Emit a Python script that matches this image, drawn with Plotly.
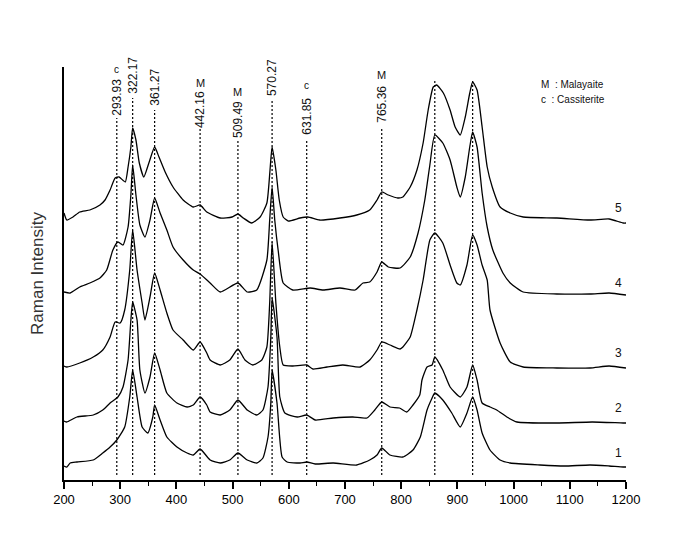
import plotly.graph_objects as go

# ---------------- data ----------------
# Raman shift (cm-1) and stacked intensity (arb. units) for each spectrum
wn1 = [200, 205, 211, 223, 252, 269, 282, 294, 308, 317, 322.17, 330, 339, 349, 358, 361.27, 371, 383, 401, 419, 430, 442.16,
       460, 478, 495, 509.49, 526, 543, 554, 563, 568, 570.27, 579, 588, 597, 620, 631.85, 647, 679, 721, 744, 757, 765.36,
       780, 803, 821, 834, 846, 855, 859.79, 874, 890, 905, 917, 927.11, 935, 944, 958, 976, 994, 1047, 1090, 1136, 1170, 1195, 1200]
int1 = [14, 13, 17, 18, 20, 27, 33, 40, 53, 83, 110, 83, 53, 47, 63, 75, 60, 43, 33, 27, 25, 31,
        20, 17, 20, 27, 20, 17, 22, 43, 77, 110, 77, 23, 18, 17, 18, 16, 17, 15, 20, 25, 32,
        25, 23, 30, 43, 70, 82, 87, 80, 67, 53, 67, 83, 70, 47, 30, 20, 17, 15, 14, 15, 14, 13, 13]

wn2 = [200, 205, 223, 252, 269, 282, 296, 305, 314, 319, 322.17, 330, 335, 344, 353, 361.27, 371, 383, 401, 419, 430, 442.16,
       454, 460, 478, 495, 509.49, 526, 543, 554, 563, 568, 570.27, 579, 584, 593, 615, 631.85, 647, 679, 714, 739, 753, 765.36,
       780, 797, 810, 821, 833, 837, 846, 855, 859.79, 874, 887, 905, 917, 927.11, 935, 944, 958, 970, 988, 1006, 1077, 1140, 1195, 1200]
int2 = [59, 58, 63, 65, 70, 77, 83, 93, 120, 160, 178, 160, 110, 87, 103, 127, 110, 87, 77, 73, 75, 83,
        75, 68, 65, 70, 80, 70, 65, 70, 93, 143, 182, 143, 83, 67, 63, 65, 60, 62, 63, 62, 70, 78,
        73, 72, 68, 75, 85, 100, 113, 115, 123, 110, 93, 83, 93, 115, 100, 77, 73, 70, 63, 58, 57, 58, 57, 57]

wn3 = [200, 205, 228, 252, 269, 282, 291, 300, 308, 317, 322.17, 330, 339, 344, 353, 361.27, 371, 383, 394, 412, 430, 442.16,
       454, 460, 478, 495, 509.49, 522, 536, 552, 561, 566, 570.27, 577, 584, 590, 607, 631.85, 643, 668, 696, 727, 744, 757, 765.36,
       780, 798, 803, 816, 828, 839, 851, 859.79, 874, 887, 899, 905, 917, 927.11, 935, 944, 953, 958, 976, 994, 1017, 1077, 1136, 1170, 1200]
int3 = [114, 113, 117, 123, 130, 143, 158, 157, 170, 210, 250, 210, 177, 160, 183, 207, 190, 167, 150, 140, 130, 138,
        127, 120, 115, 120, 131, 120, 115, 120, 133, 177, 238, 177, 133, 115, 114, 115, 111, 113, 115, 113, 120, 130, 138,
        135, 131, 133, 143, 170, 200, 240, 247, 237, 215, 197, 195, 215, 245, 235, 215, 200, 170, 137, 118, 113, 112, 112, 114, 112]

wn4 = [200, 211, 228, 246, 264, 276, 287, 296, 305, 314, 319, 322.17, 328, 335, 344, 353, 361.27, 371, 383, 394, 412, 430, 442.16,
       460, 478, 509.49, 526, 543, 561, 566, 570.27, 575, 581, 590, 607, 638, 661, 691, 718, 732, 744, 757, 765.36,
       777, 798, 816, 830, 842, 851, 859.79, 874, 887, 899, 905, 914, 922, 927.11, 935, 944, 953, 963, 981, 994, 1017, 1077, 1136, 1170, 1200]
int4 = [188, 187, 193, 197, 202, 210, 230, 238, 235, 253, 285, 315, 285, 255, 243, 260, 282, 267, 250, 233, 220, 210, 206,
        197, 188, 197, 188, 190, 220, 260, 293, 260, 230, 197, 190, 192, 190, 192, 190, 197, 198, 208, 218,
        213, 212, 223, 247, 280, 315, 345, 337, 320, 293, 283, 303, 333, 348, 333, 287, 253, 230, 207, 197, 188, 186, 186, 187, 185]

wn5 = [200, 205, 216, 228, 246, 264, 273, 282, 291, 298, 309, 314, 319, 322.17, 328, 334, 342, 351, 361.27, 369, 380, 394, 412, 430, 442.16,
       454, 478, 499, 509.49, 519, 534, 549, 561, 567, 570.27, 577, 583, 590, 599, 620, 634, 655, 691, 721, 744, 757, 765.36,
       777, 794, 803, 816, 828, 839, 848, 857, 863, 875, 887, 896, 905, 914, 922, 927.11, 935, 944, 953, 962, 976, 994, 1017, 1077, 1136, 1170, 1195, 1200]
int5 = [267, 260, 263, 268, 270, 275, 280, 290, 302, 303, 298, 313, 333, 352, 340, 317, 303, 317, 333, 323, 308, 293, 280, 273, 275,
        268, 262, 263, 266, 262, 257, 263, 277, 313, 333, 310, 280, 263, 259, 262, 263, 260, 262, 265, 270, 280, 288,
        285, 282, 283, 293, 310, 337, 370, 393, 395, 387, 370, 353, 345, 363, 387, 398, 390, 353, 313, 293, 273, 267, 263, 262, 260, 261, 257, 257]

spectra_x = [wn1, wn2, wn3, wn4, wn5]
spectra_y = [int1, int2, int3, int4, int5]
spectrum_names = ["1", "2", "3", "4", "5"]

# assigned peaks
peak_pos = [293.93, 322.17, 361.27, 442.16, 509.49, 570.27, 631.85, 765.36, 859.79, 927.11]
peak_text = ["293.93", "322.17", "361.27", "442.16", "509.49", "570.27", "631.85", "765.36", "859.79", "927.11"]
peak_phase = ["c", "", "", "M", "M", "M", "c", "M", "c", "M"]

legend_lines = ["M  : Malayaite", "c  : Cassiterite"]
x_ticks = [200, 300, 400, 500, 600, 700, 800, 900, 1000, 1100, 1200]

# ---------------- layout constants ----------------
line_top = [362, 382, 370, 353, 339, 380, 339, 353, 401, 401]
label_mid = [383, 405, 393, 370, 361, 402, 364, 376, 425, 425]
letter_y = [411, 0, 0, 397, 388, 430, 395, 405, 457, 458]
name_y = [27, 72, 127, 197, 272]

FONT = "Arial, Liberation Sans, sans-serif"
fig = go.Figure()

for xs, ys, nm in zip(spectra_x, spectra_y, spectrum_names):
    fig.add_trace(go.Scatter(x=xs, y=ys, mode="lines", name=nm,
                             line=dict(color="black", width=1.3, shape="spline", smoothing=0.5),
                             showlegend=False))

shapes = []
annotations = []
for p, t, ph, top, mid, ly in zip(peak_pos, peak_text, peak_phase, line_top, label_mid, letter_y):
    shapes.append(dict(type="line", xref="x", yref="y", x0=p, x1=p, y0=5, y1=top,
                       line=dict(color="black", width=1.2, dash="2px,2px")))
    annotations.append(dict(x=p, y=mid, xref="x", yref="y", text=t, showarrow=False, textangle=-90,
                            font=dict(family=FONT, size=12, color="#111")))
    if ph:
        annotations.append(dict(x=p, y=ly, xref="x", yref="y", text=ph, showarrow=False,
                                font=dict(family=FONT, size=10 if ph == "c" else 11, color="#111")))

for nm, yy in zip(spectrum_names, name_y):
    annotations.append(dict(x=1186, y=yy, xref="x", yref="y", text=nm, showarrow=False,
                            font=dict(family=FONT, size=12, color="#111")))

for i, txt in enumerate(legend_lines):
    annotations.append(dict(x=1045, y=396 - 15 * i, xref="x", yref="y", text=txt, showarrow=False,
                            xanchor="left", font=dict(family=FONT, size=10, color="#111")))

fig.update_layout(
    width=678, height=539,
    margin=dict(l=64, r=52, t=67, b=59, autoexpand=False),
    paper_bgcolor="white", plot_bgcolor="white",
    shapes=shapes, annotations=annotations,
    font=dict(family=FONT, color="black"),
)
fig.update_xaxes(range=[200, 1200], showline=True, linecolor="black", linewidth=1.5,
                 ticks="outside", ticklen=7, tickwidth=1.5, tickcolor="black",
                 tickvals=x_ticks, ticktext=[str(v) for v in x_ticks],
                 minor=dict(ticks="outside", ticklen=4, tickwidth=1.2, tickcolor="black", dtick=50, tick0=200),
                 tickfont=dict(family=FONT, size=13, color="black"),
                 showgrid=False, zeroline=False, automargin=False)
fig.update_yaxes(range=[0, 413], showline=True, linecolor="black", linewidth=1.5,
                 showticklabels=False, ticks="", showgrid=False, zeroline=False,
                 title=dict(text="Raman Intensity", font=dict(family=FONT, size=17, color="#333"), standoff=14),
                 automargin=False)

fig.write_html("out.html")
